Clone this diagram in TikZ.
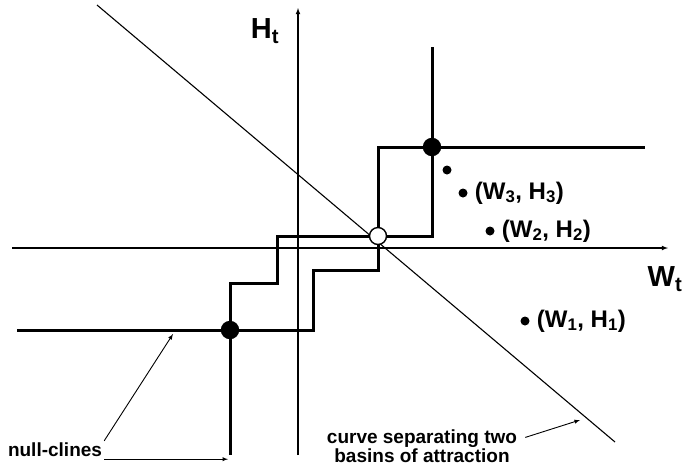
\documentclass[tikz,border=0pt]{standalone}
\usepackage{fontspec}
\setmainfont{Liberation Sans}
\usetikzlibrary{arrows,positioning}

\begin{document}
\begin{tikzpicture}[x=1pt, y=-1pt,
    every node/.style={font=\bfseries},
    axis/.style={line width=1.1pt, -latex},
    nullcline/.style={line width=3pt, line join=miter},
    fixpt/.style={circle, draw, line width=1.4pt, fill=black, minimum size=17pt, inner sep=0pt},
    state/.style={circle, fill=black, minimum size=9pt, inner sep=0pt},
    note/.style={font=\bfseries\fontsize{19}{17}\selectfont, align=center, inner sep=2pt},
    ptlabel/.style={font=\bfseries\fontsize{24}{26}\selectfont, right, inner sep=2pt, xshift=5pt}
]
\useasboundingbox (0,0) rectangle (684,467);

% Axes
\draw[axis] (12,248) -- (668,248);
\draw[axis] (298,455) -- (298,8);
\node[font=\bfseries\fontsize{29}{31}\selectfont] (hlabel) at (265,31) {H\textsubscript{t}};
\node[font=\bfseries\fontsize{29}{31}\selectfont] (wlabel) at (665,279) {W\textsubscript{t}};

% Separating curve
\draw[line width=1.1pt] (97,5) -- (615,442);

% Null-clines
\draw[nullcline] (17,330) -- (313,330) -- (313,270) -- (378,270) -- (378,236) -- (432,236) -- (432,47);
\draw[nullcline] (230,455) -- (230,283) -- (277,283) -- (277,236) -- (378,236) -- (378,147) -- (645,147);

% Fixed points
\node[fixpt] (low) at (230,330) {};
\node[fixpt] (high) at (432,147) {};
\node[fixpt, fill=white] (saddle) at (378,236) {};

% States
\node[state] (s4) at (447,170) {};
\node[state] (s3) at (463,193) {};
\node[state] (s2) at (490,231) {};
\node[state] (s1) at (525,321) {};
\node[ptlabel] (l3) at (s3.east) {(W\textsubscript{3}, H\textsubscript{3})};
\node[ptlabel] (l2) at (s2.east) {(W\textsubscript{2}, H\textsubscript{2})};
\node[ptlabel] (l1) at (s1.east) {(W\textsubscript{1}, H\textsubscript{1})};

% Labels
\coordinate (nc1) at (173,334);
\coordinate (nc2) at (228,460);
\coordinate (sep) at (580,420);
\node[note] (nulltext) at (55,450) {null-clines};
\node[note] (basin) at (422,446) {curve separating two\\basins of attraction};
\draw[->, >=latex, line width=0.9pt] (nulltext.north east) -- (nc1);
\draw[->, >=latex, line width=0.9pt] (nulltext.south east) -- (nulltext.south east -| nc2);
\draw[->, >=latex, line width=0.9pt] ([shift={(6,10)}]basin.north east) -- (sep);

\end{tikzpicture}
\end{document}
